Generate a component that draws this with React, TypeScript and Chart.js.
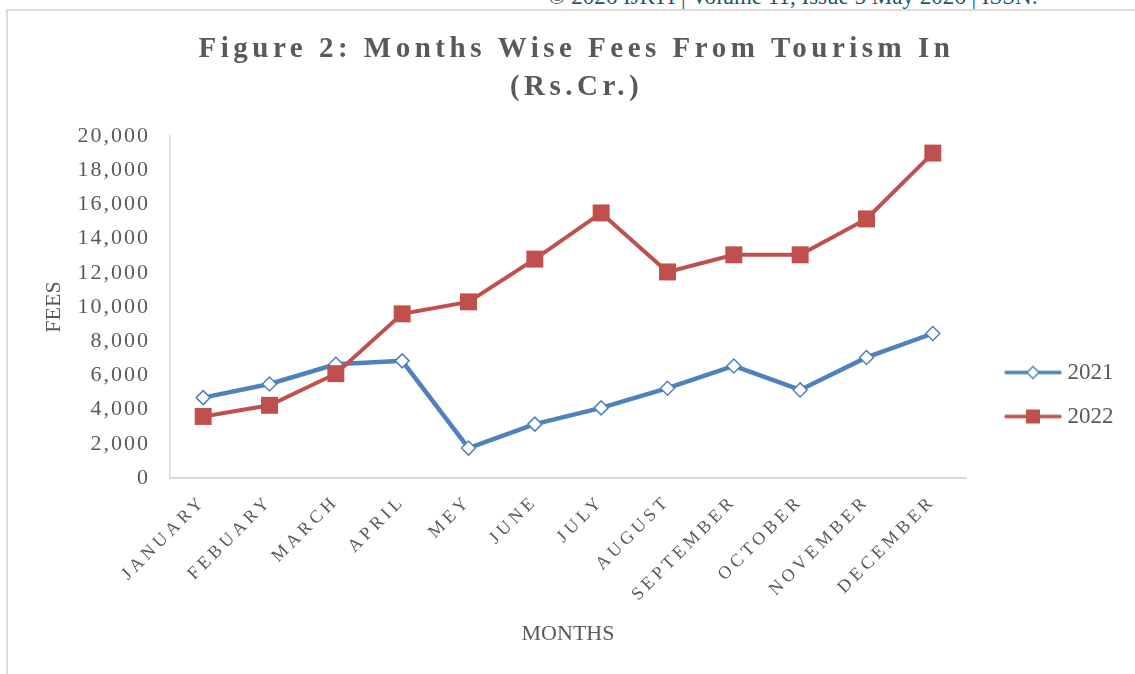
import React, { useEffect, useRef } from 'react';
import { Chart, registerables } from 'chart.js';

Chart.register(...registerables);

const MONTHS = ['JANUARY', 'FEBUARY', 'MARCH', 'APRIL', 'MEY', 'JUNE', 'JULY', 'AUGUST', 'SEPTEMBER', 'OCTOBER', 'NOVEMBER', 'DECEMBER'];
const FEES_2021 = [4700, 5500, 6650, 6850, 1750, 3150, 4100, 5250, 6550, 5150, 7050, 8450];
const FEES_2022 = [3600, 4250, 6100, 9600, 10300, 12800, 15500, 12050, 13050, 13050, 15150, 19000];
const SERIES_LABELS = ['2021', '2022'];
const TITLE_LINES = ['Figure 2: Months Wise Fees From Tourism In', '(Rs.Cr.)'];
const X_TITLE = 'MONTHS';
const Y_TITLE = 'FEES';
const Y_MIN = 0;
const Y_MAX = 20000;
const Y_STEP = 2000;
const HEADER_TEXT = '\u00A9 2026 IJRTI | Volume 11, Issue 5 May 2026 | ISSN:';

const FONT = "'Liberation Serif', 'Times New Roman', serif";
const GREY = '#595959';
const BLUE = '#4F81BD';
const RED = '#C0504D';
const LEGEND_WIDTH = 169;

function makeLegendIcon(color: string, style: 'diamond' | 'square') {
  const c = document.createElement('canvas');
  c.width = 58;
  c.height = 20;
  const ctx = c.getContext('2d')!;
  ctx.strokeStyle = color;
  ctx.lineWidth = 3.5;
  ctx.lineCap = 'round';
  ctx.beginPath();
  ctx.moveTo(2, 10);
  ctx.lineTo(56, 10);
  ctx.stroke();
  if (style === 'diamond') {
    ctx.beginPath();
    ctx.moveTo(29, 4);
    ctx.lineTo(35, 10);
    ctx.lineTo(29, 16);
    ctx.lineTo(23, 10);
    ctx.closePath();
    ctx.fillStyle = '#ffffff';
    ctx.fill();
    ctx.lineWidth = 1.5;
    ctx.stroke();
  } else {
    ctx.fillStyle = color;
    ctx.fillRect(22, 3, 14, 14);
  }
  return c;
}

function spaced(obj: any, method: string, chart: any, spacing: string) {
  if (!obj || obj['_sp_' + method]) return;
  const orig = obj[method].bind(obj);
  obj[method] = (...args: any[]) => {
    const ctx = chart.ctx;
    ctx.save();
    (ctx as any).letterSpacing = spacing;
    orig(...args);
    ctx.restore();
  };
  obj['_sp_' + method] = true;
}

const tweaks = {
  id: 'tweaks',
  beforeLayout(chart: any) {
    const lg = chart.legend;
    if (lg && !lg._fixedFit) {
      const fit = lg.fit.bind(lg);
      lg.fit = () => {
        fit();
        lg.width = LEGEND_WIDTH;
      };
      lg._fixedFit = true;
    }
  },
  afterLayout(chart: any) {
    const ca = chart.chartArea;
    const lg = chart.legend;
    if (lg) {
      lg.left = ca.right + 23;
      lg.right = lg.left + LEGEND_WIDTH;
      lg.top = ca.top;
      lg.bottom = chart.height - 21;
    }
    spaced(chart.titleBlock, 'draw', chart, '4.5px');
    spaced(chart.scales.x, 'drawLabels', chart, '4px');
    spaced(chart.scales.y, 'drawLabels', chart, '2px');
  },
};

export default function App() {
  const canvasRef = useRef<HTMLCanvasElement | null>(null);

  useEffect(() => {
    const canvas = canvasRef.current;
    if (!canvas) return;
    const icons = [makeLegendIcon(BLUE, 'diamond'), makeLegendIcon(RED, 'square')];
    const chart = new Chart(canvas, {
      type: 'line',
      data: {
        labels: MONTHS,
        datasets: [
          {
            label: SERIES_LABELS[0],
            data: FEES_2021,
            borderColor: BLUE,
            borderWidth: 4.5,
            tension: 0,
            pointStyle: 'rectRot',
            pointRadius: 7,
            pointHoverRadius: 7,
            pointBackgroundColor: '#ffffff',
            pointBorderColor: BLUE,
            pointBorderWidth: 1.5,
            order: 1,
          },
          {
            label: SERIES_LABELS[1],
            data: FEES_2022,
            borderColor: RED,
            borderWidth: 4,
            tension: 0,
            pointStyle: 'rect',
            pointRadius: 12,
            pointHoverRadius: 12,
            pointBackgroundColor: RED,
            pointBorderColor: RED,
            pointBorderWidth: 0,
            order: 0,
          },
        ],
      },
      options: {
        responsive: false,
        maintainAspectRatio: false,
        animation: false,
        layout: { padding: { left: 18, right: 0, top: 0, bottom: 0 } },
        plugins: {
          title: {
            display: true,
            text: TITLE_LINES,
            color: GREY,
            font: { family: FONT, size: 29, weight: 'bold', lineHeight: 1.31 },
            padding: { top: 31, bottom: 29 },
          },
          legend: {
            display: true,
            position: 'right',
            labels: {
              usePointStyle: true,
              pointStyleWidth: 46,
              padding: 21,
              color: GREY,
              font: { family: FONT, size: 23 },
              generateLabels: (ch: any) =>
                ch.data.datasets.map((ds: any, i: number) => ({
                  text: ds.label,
                  pointStyle: icons[i],
                  fillStyle: ds.borderColor,
                  strokeStyle: ds.borderColor,
                  lineWidth: 0,
                  hidden: false,
                  datasetIndex: i,
                  fontColor: GREY,
                })),
            },
          },
          tooltip: { enabled: false },
        },
        scales: {
          x: {
            offset: true,
            grid: { display: false, drawTicks: false },
            border: { display: true, color: '#d9d9d9', width: 2 },
            ticks: {
              color: GREY,
              font: { family: FONT, size: 18 },
              maxRotation: 45,
              minRotation: 45,
              padding: 13,
              autoSkip: false,
            },
            title: {
              display: true,
              text: X_TITLE,
              color: GREY,
              font: { family: FONT, size: 22 },
              padding: { top: 0, bottom: 27 },
            },
            afterFit: (scale: any) => {
              scale.height = 196;
            },
          },
          y: {
            min: Y_MIN,
            max: Y_MAX,
            grid: { display: false, drawTicks: false },
            border: { display: true, color: '#d9d9d9', width: 1.5 },
            ticks: {
              stepSize: Y_STEP,
              color: GREY,
              font: { family: FONT, size: 22 },
              padding: 20,
              callback: (v: any) => Number(v).toLocaleString('en-US'),
            },
            title: {
              display: true,
              text: Y_TITLE,
              color: GREY,
              font: { family: FONT, size: 22 },
              padding: { top: 23, bottom: 0 },
            },
            afterFit: (scale: any) => {
              scale.width = 152;
            },
          },
        },
      },
      plugins: [tweaks],
    } as any);
    return () => chart.destroy();
  }, []);

  return (
    <div style={{ position: 'fixed', top: 0, left: 0, width: 1135, height: 674, background: '#ffffff', overflow: 'hidden' }}>
      <div
        style={{
          position: 'absolute',
          left: 548,
          top: -15,
          fontFamily: FONT,
          fontSize: 23,
          lineHeight: '23px',
          color: '#215868',
          whiteSpace: 'nowrap',
        }}
      >
        {HEADER_TEXT}
      </div>
      <div style={{ position: 'absolute', left: 6, top: 9, width: 1129, height: 2, background: '#dcdcdc' }} />
      <div style={{ position: 'absolute', left: 6, top: 9, width: 2, height: 665, background: '#dcdcdc' }} />
      <canvas
        ref={canvasRef}
        width={1135}
        height={674}
        style={{ position: 'absolute', left: 0, top: 0, width: 1135, height: 674, display: 'block' }}
      />
    </div>
  );
}
